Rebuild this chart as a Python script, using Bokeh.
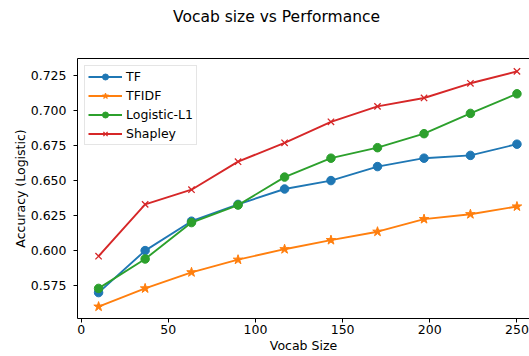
from bokeh.plotting import figure
from bokeh.models import Range1d, FixedTicker, LinearAxis, Legend, LegendItem, NumeralTickFormatter, Div
from bokeh.layouts import column
from bokeh.embed import file_html
from bokeh.resources import INLINE

vocab_size = [10, 36.7, 63.3, 90, 116.7, 143.3, 170, 196.7, 223.3, 250]
tf = [0.570, 0.600, 0.621, 0.633, 0.644, 0.650, 0.660, 0.666, 0.668, 0.676]
tfidf = [0.560, 0.573, 0.5845, 0.5935, 0.601, 0.6075, 0.6135, 0.6225, 0.626, 0.6315]
logistic_l1 = [0.573, 0.594, 0.620, 0.6325, 0.6525, 0.666, 0.6735, 0.6835, 0.698, 0.712]
shapley = [0.596, 0.633, 0.6435, 0.6635, 0.677, 0.692, 0.703, 0.709, 0.7195, 0.728]

x_ticks = [0, 50, 100, 150, 200, 250]
y_ticks = [0.575, 0.600, 0.625, 0.650, 0.675, 0.700, 0.725]

colors = ["#1f77b4", "#ff7f0e", "#2ca02c", "#d62728"]
FONT = "DejaVu Sans"

TITLE_H = 30
title_div = Div(text="Vocab size vs Performance", width=529, height=TITLE_H, margin=0,
                styles={"font-family": FONT, "font-size": "15.5px", "color": "#000000",
                        "padding-left": "173px", "padding-top": "8px", "box-sizing": "border-box",
                        "white-space": "nowrap", "line-height": "normal"})

p = figure(width=529, height=356 - TITLE_H, output_backend="svg", toolbar_location=None,
           x_range=Range1d(-2.1, 257.2), y_range=Range1d(0.5515, 0.7372),
           min_border_left=77, min_border_right=0, min_border_top=58 - TITLE_H, min_border_bottom=38,
           margin=0)
p.outline_line_color = None
p.xgrid.visible = False
p.ygrid.visible = False
p.background_fill_color = "white"
p.border_fill_color = "white"

for ax in (p.xaxis[0], p.yaxis[0]):
    ax.axis_line_color = "#000000"
    ax.axis_line_width = 1
    ax.major_tick_line_color = "#000000"
    ax.major_tick_in = 0
    ax.major_tick_out = 4
    ax.minor_tick_line_color = None
    ax.major_label_text_font = FONT
    ax.major_label_text_font_size = "12.5px"
    ax.major_label_text_color = "#000000"
    ax.axis_label_text_font = FONT
    ax.axis_label_text_font_size = "12.5px"
    ax.axis_label_text_font_style = "normal"
    ax.axis_label_text_color = "#000000"

p.xaxis[0].ticker = FixedTicker(ticks=x_ticks)
p.yaxis[0].ticker = FixedTicker(ticks=y_ticks)
p.yaxis[0].formatter = NumeralTickFormatter(format="0.000")
p.xaxis[0].axis_label = "Vocab Size"
p.yaxis[0].axis_label = "Accuracy (Logistic)"
p.xaxis[0].major_label_standoff = 2
p.xaxis[0].axis_label_standoff = 1
p.yaxis[0].major_label_standoff = 7
p.yaxis[0].axis_label_standoff = 0

top_axis = LinearAxis(ticker=FixedTicker(ticks=[]), axis_line_color="#000000", axis_line_width=1,
                      major_tick_line_color=None, minor_tick_line_color=None,
                      major_label_standoff=0)
p.add_layout(top_axis, "above")

series = [("TF", tf, "circle", 8.5), ("TFIDF", tfidf, "star", 10),
          ("Logistic-L1", logistic_l1, "circle", 8.5), ("Shapley", shapley, "x", 9)]
items = []
for (name, ys, marker, size), c in zip(series, colors):
    l = p.line(vocab_size, ys, line_color=c, line_width=1.9)
    if marker == "x":
        s = p.scatter(vocab_size, ys, marker="x", size=size, line_color=c, line_width=1.3)
    else:
        s = p.scatter(vocab_size, ys, marker=marker, size=size, fill_color=c, line_color=c)
    items.append(LegendItem(label=name, renderers=[l, s]))

legend = Legend(items=items, location="top_left", margin=7, padding=3, spacing=4,
                glyph_width=34, glyph_height=15, label_height=15, label_standoff=4,
                label_text_font=FONT, label_text_font_size="12.5px", label_text_color="#000000",
                border_line_color="#cccccc", border_line_width=1,
                background_fill_color="white", background_fill_alpha=0.8)
p.add_layout(legend)

layout = column(title_div, p, spacing=0, margin=0)
open("out.html", "w").write(file_html(layout, INLINE))
